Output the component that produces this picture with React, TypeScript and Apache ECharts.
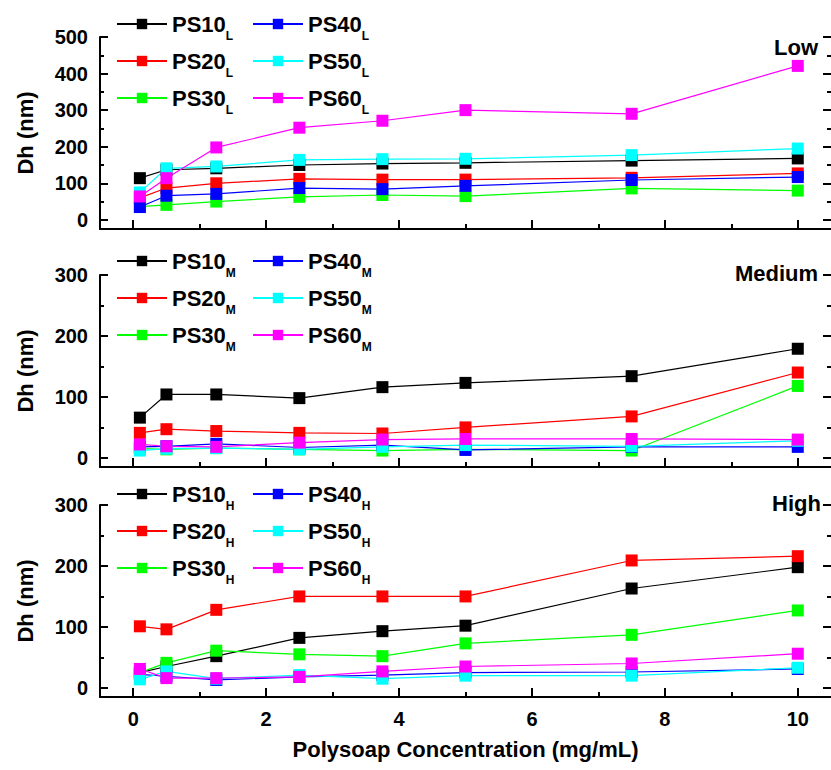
import React, { useEffect, useRef } from "react";
import * as echarts from "echarts";

const X_VALUES = [0.1, 0.5, 1.25, 2.5, 3.75, 5, 7.5, 10];
const SERIES_KEYS = ["PS10", "PS20", "PS30", "PS40", "PS50", "PS60"];
const COLORS = ["#000000", "#ff0000", "#00ff00", "#0000ff", "#00ffff", "#ff00ff"];
const PANEL_SUFFIX = ["L", "M", "H"];
const PANEL_TITLES = ["Low", "Medium", "High"];

const LOW = [
  [114, 137, 141, 150, 154, 156, 162, 168],
  [60, 87, 100, 112, 110, 110, 115, 127],
  [36, 41, 50, 63, 68, 65, 86, 80],
  [35, 66, 71, 87, 84, 93, 109, 117],
  [75, 141, 146, 164, 166, 167, 177, 195],
  [64, 114, 198, 252, 271, 300, 290, 421],
];
const MEDIUM = [
  [66, 104, 104, 98, 116, 123, 134, 179],
  [41, 47, 44, 41, 40, 50, 68, 140],
  [15, 14, 16, 14, 12, 14, 12, 118],
  [18, 19, 23, 17, 21, 13, 18, 18],
  [12, 15, 16, 14, 18, 21, 19, 28],
  [22, 19, 18, 25, 30, 31, 31, 30],
];
const HIGH = [
  [25, 35, 52, 82, 93, 102, 163, 198],
  [101, 96, 128, 150, 150, 150, 209, 216],
  [25, 41, 61, 55, 52, 73, 87, 127],
  [22, 19, 13, 18, 21, 25, 26, 31],
  [14, 27, 15, 21, 15, 20, 20, 33],
  [31, 16, 16, 18, 27, 35, 40, 56],
];
const PANELS = [LOW, MEDIUM, HIGH];

const X_MAJOR = [0, 2, 4, 6, 8, 10];
const X_MINOR = [1, 3, 5, 7, 9];
const Y_MAJOR_LOW = [0, 100, 200, 300, 400, 500];
const Y_MINOR_LOW = [50, 150, 250, 350, 450];
const Y_MAJOR_MH = [0, 100, 200, 300];
const Y_MINOR_MH = [50, 150, 250];
const Y_RANGES = [
  [-25, 500],
  [-15, 300],
  [-15, 300],
];

const FONT = 'Arial, "Liberation Sans", sans-serif';

export default function App() {
  const ref = useRef<HTMLDivElement>(null);

  useEffect(() => {
    if (!ref.current) return;
    const chart = echarts.init(ref.current, null, { renderer: "svg" });

    const gridTops = [37, 275, 505];
    const legendTops = [13, 250, 483];
    const grids: any[] = [];
    const xAxes: any[] = [];
    const yAxes: any[] = [];
    const series: any[] = [];
    const legends: any[] = [];

    const rich = {
      m: { fontSize: 22, fontWeight: "bold", color: "#000", fontFamily: FONT, lineHeight: 36, verticalAlign: "middle" },
      s: { fontSize: 12, fontWeight: "bold", color: "#000", fontFamily: FONT, lineHeight: 14, verticalAlign: "bottom" },
    };

    PANELS.forEach((panel, i) => {
      grids.push({ left: 100, width: 737, top: gridTops[i], height: 192 });
      const yMajor = i === 0 ? Y_MAJOR_LOW : Y_MAJOR_MH;
      const yMinor = i === 0 ? Y_MINOR_LOW : Y_MINOR_MH;
      const [ymin, ymax] = Y_RANGES[i];

      xAxes.push({
        type: "value",
        gridIndex: i,
        min: -0.5,
        max: 10.5,
        position: "bottom",
        axisLine: { show: true, onZero: false, lineStyle: { color: "#000", width: 2 } },
        axisTick: { show: true, inside: true, length: 9, customValues: X_MAJOR, lineStyle: { color: "#000", width: 2 } },
        axisLabel: {
          show: i === 2,
          customValues: X_MAJOR,
          fontSize: 20,
          fontWeight: "bold",
          color: "#000",
          fontFamily: FONT,
          margin: 12,
        },
        splitLine: { show: false },
        name: i === 2 ? "Polysoap Concentration (mg/mL)" : "",
        nameLocation: "middle",
        nameGap: 41,
        nameTextStyle: { fontSize: 22, fontWeight: "bold", color: "#000", fontFamily: FONT },
      });
      xAxes.push({
        type: "value",
        gridIndex: i,
        min: -0.5,
        max: 10.5,
        position: "bottom",
        axisLine: { show: false, onZero: false },
        axisTick: { show: true, inside: true, length: 5, customValues: X_MINOR, lineStyle: { color: "#000", width: 2 } },
        axisLabel: { show: false },
        splitLine: { show: false },
      });

      const yBase = {
        type: "value",
        gridIndex: i,
        min: ymin,
        max: ymax,
        splitLine: { show: false },
      };
      yAxes.push({
        ...yBase,
        position: "left",
        axisLine: { show: true, onZero: false, lineStyle: { color: "#000", width: 2 } },
        axisTick: { show: true, inside: true, length: 8, customValues: yMajor, lineStyle: { color: "#000", width: 2 } },
        axisLabel: {
          show: true,
          customValues: yMajor,
          fontSize: 20,
          fontWeight: "bold",
          color: "#000",
          fontFamily: FONT,
          margin: 12,
        },
        name: "Dh (nm)",
        nameLocation: "middle",
        nameGap: 64,
        nameTextStyle: { fontSize: 22, fontWeight: "bold", color: "#000", fontFamily: FONT },
      });
      yAxes.push({
        ...yBase,
        position: "left",
        axisLine: { show: false, onZero: false },
        axisTick: { show: true, inside: true, length: 4, customValues: yMinor, lineStyle: { color: "#000", width: 2 } },
        axisLabel: { show: false },
      });
      yAxes.push({
        ...yBase,
        position: "right",
        axisLine: { show: false, onZero: false },
        axisTick: { show: true, inside: true, length: 8, customValues: yMajor, lineStyle: { color: "#000", width: 2 } },
        axisLabel: { show: false },
      });
      yAxes.push({
        ...yBase,
        position: "right",
        axisLine: { show: false, onZero: false },
        axisTick: { show: true, inside: true, length: 4, customValues: yMinor, lineStyle: { color: "#000", width: 2 } },
        axisLabel: { show: false },
      });

      const names: string[] = [];
      SERIES_KEYS.forEach((key, k) => {
        const name = key + "_" + PANEL_SUFFIX[i];
        names.push(name);
        series.push({
          type: "line",
          name,
          xAxisIndex: 2 * i,
          yAxisIndex: 4 * i,
          data: X_VALUES.map((x, j) => [x, panel[k][j]]),
          symbol: "rect",
          symbolSize: 12,
          color: COLORS[k],
          itemStyle: { color: COLORS[k] },
          lineStyle: { color: COLORS[k], width: 1.2 },
        });
      });

      const fmt = (n: string) => {
        const [a, b] = n.split("_");
        return "{m|" + a + "}{s|" + b + "}";
      };
      [names.slice(0, 3), names.slice(3, 6)].forEach((col, c) => {
        legends.push({
          orient: "vertical",
          left: c === 0 ? 116 : 252,
          top: legendTops[i],
          padding: 0,
          itemGap: 8,
          itemWidth: 50,
          itemHeight: 13,
          selectedMode: false,
          data: col,
          formatter: fmt,
          textStyle: { rich },
        });
      });
    });

    const titleRights = [818, 818, 821];
    const titleYs = [47, 273, 503];
    const graphic = PANEL_TITLES.map((t, i) => ({
      type: "text",
      x: titleRights[i],
      y: titleYs[i],
      style: {
        text: t,
        fontSize: 22,
        fontWeight: "bold",
        fontFamily: FONT,
        fill: "#000",
        textAlign: "right",
        textVerticalAlign: "middle",
      },
    }));

    chart.setOption({
      animation: false,
      backgroundColor: "#fff",
      grid: grids,
      xAxis: xAxes,
      yAxis: yAxes,
      legend: legends,
      series,
      graphic,
    });

    return () => chart.dispose();
  }, []);

  return (
    <div
      ref={ref}
      style={{ position: "absolute", left: 0, top: 0, width: 831, height: 770 }}
    />
  );
}
